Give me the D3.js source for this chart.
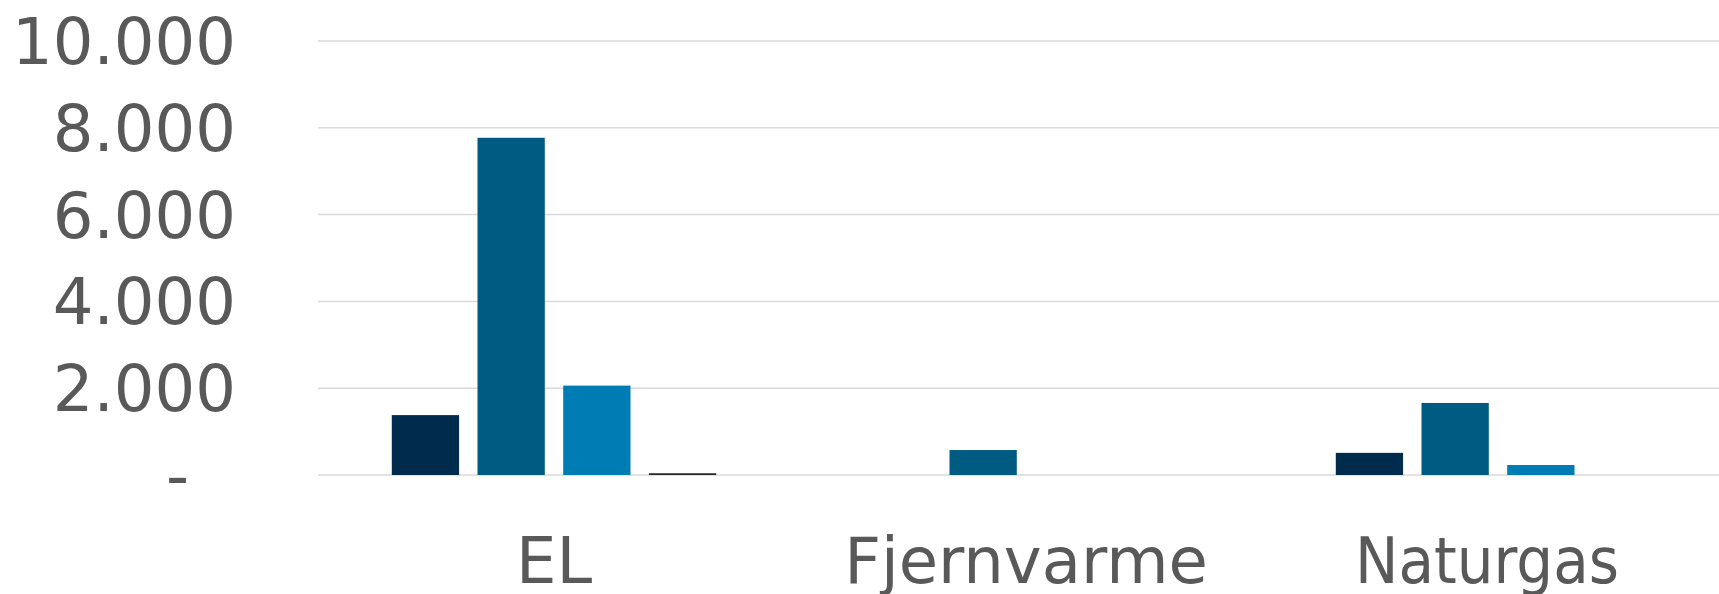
<!DOCTYPE html>
<html>
<head>
<meta charset="utf-8">
<script src="https://cdn.jsdelivr.net/npm/d3@7"></script>
<style>
  body { margin: 0; background: #fff; overflow: hidden; }
  #chart { width: 1719px; height: 594px; }
</style>
</head>
<body>
<div id="chart"></div>
<script>
// data
var categories = ["EL", "Fjernvarme", "Naturgas"];
var seriesNames = ["Serie 1", "Serie 2", "Serie 3", "Serie 4"];
var serie1 = [1380, 0, 510];
var serie2 = [7770, 575, 1660];
var serie3 = [2060, 0, 230];
var serie4 = [40, 0, 0];
var yTicks = [0, 2000, 4000, 6000, 8000, 10000];

var seriesColors = ["#002b4c", "#005b82", "#007cb5", "#262626"];

var containerWidth = 1719, containerHeight = 594;

// plot area runs a bit past the right edge of the window in the original
var margin = {top: 41, right: -15, bottom: 119, left: 318},
    width = containerWidth - margin.left - margin.right,
    height = containerHeight - margin.top - margin.bottom;

var svg = d3.select("#chart")
  .append("svg")
    .attr("width", containerWidth)
    .attr("height", containerHeight)
  .append("g")
    .attr("transform", "translate(" + margin.left + "," + margin.top + ")");

// build rows from the arrays
var allSeries = [serie1, serie2, serie3, serie4];
var data = categories.map(function(c, i) {
    var obj = { Type: c };
    seriesNames.forEach(function(s, j) { obj[s] = allSeries[j][i]; });
    return obj;
});

var x = d3.scaleBand()
    .domain(categories)
    .range([0, width])
    .padding(0);

var xSubgroup = d3.scaleBand()
    .domain(seriesNames)
    .range([0, x.bandwidth()])
    .paddingInner(0.215)
    .paddingOuter(0.861);

var y = d3.scaleLinear()
    .domain([0, 10000])
    .range([height, 0]);

var color = d3.scaleOrdinal()
    .domain(seriesNames)
    .range(seriesColors);

// gridlines
svg.append("g")
  .selectAll("line")
  .data(yTicks)
  .enter().append("line")
    .attr("x1", 0)
    .attr("x2", width)
    .attr("y1", function(d) { return y(d); })
    .attr("y2", function(d) { return y(d); })
    .attr("stroke", "#d9d9d9")
    .attr("stroke-width", 1.5);

// y axis labels (danish thousands separator, zero shown as "-")
var fmt = d3.formatLocale({decimal: ",", thousands: ".", grouping: [3], currency: ["", " kr."]}).format(",.0f");
var yAxis = svg.append("g")
    .attr("transform", "translate(" + (236 - margin.left) + ",0)")
    .call(d3.axisLeft(y).tickValues(yTicks).tickSize(0).tickPadding(0)
        .tickFormat(function(d) { return d === 0 ? "-" : fmt(d); }));
yAxis.select(".domain").remove();
yAxis.selectAll("text")
    .attr("x", 0)
    .attr("dy", "0.35em")
    .attr("dx", function(d) { return d === 0 ? -47 : 0; })
    .style("font-family", "'DejaVu Sans', Verdana, sans-serif")
    .style("font-size", "64px")
    .attr("fill", "#595959");

// bars
svg.append("g")
  .selectAll("g")
  .data(data)
  .enter()
  .append("g")
    .attr("transform", function(d) { return "translate(" + x(d.Type) + ",0)"; })
  .selectAll("rect")
  .data(function(d) { return seriesNames.map(function(key) { return {key: key, value: d[key]}; }); })
  .enter().append("rect")
    .attr("x", function(d) { return xSubgroup(d.key); })
    .attr("y", function(d) { return y(d.value); })
    .attr("width", xSubgroup.bandwidth())
    .attr("height", function(d) { return height - y(d.value); })
    .attr("fill", function(d) { return color(d.key); });

// category labels
var xAxis = svg.append("g")
    .attr("transform", "translate(0," + height + ")")
    .call(d3.axisBottom(x).tickSize(0).tickPadding(0));
xAxis.select(".domain").remove();
xAxis.selectAll("text")
    .attr("y", 108)
    .attr("dy", 0)
    .style("font-family", "'DejaVu Sans', Verdana, sans-serif")
    .style("font-size", "64px")
    .attr("fill", "#595959");

// the last label is a bit narrower and further left in the original
xAxis.selectAll("text")
    .filter(function(d) { return d === "Naturgas"; })
    .attr("dx", -11)
    .attr("textLength", 264)
    .attr("lengthAdjust", "spacingAndGlyphs");
</script>
</body>
</html>
